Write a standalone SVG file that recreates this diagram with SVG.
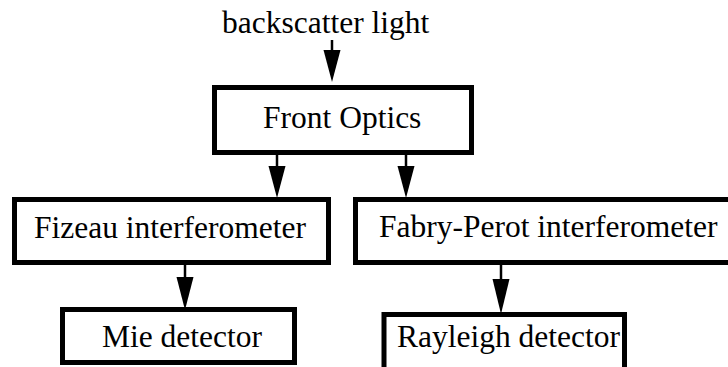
<svg xmlns="http://www.w3.org/2000/svg" width="728" height="367" viewBox="0 0 728 367">
<style>
.box{fill:#fff;stroke:#000;stroke-width:5}
.lbl{font-family:"Liberation Serif","Times New Roman",serif;font-size:31.5px;fill:#000}
.wire{stroke:#000;stroke-width:2.5;fill:none}
.head{fill:#000}
</style>
<rect width="728" height="367" fill="#fff"/>
<g id="label-backscatter"><text class="lbl" x="222" y="33">backscatter light</text></g>
<g id="front-optics"><rect class="box" x="214.5" y="87.5" width="257" height="65"/><text class="lbl" x="263" y="128">Front Optics</text></g>
<g id="fizeau"><rect class="box" x="14.5" y="199.5" width="314" height="63"/><text class="lbl" x="34" y="238">Fizeau interferometer</text></g>
<g id="fabry-perot"><rect class="box" x="355.5" y="199.5" width="400" height="63"/><text class="lbl" x="379" y="237">Fabry-Perot interferometer</text></g>
<g id="mie"><rect class="box" x="62.5" y="309.5" width="232" height="53"/><text class="lbl" x="102" y="347">Mie detector</text></g>
<g id="rayleigh"><rect class="box" x="384" y="314.5" width="240.5" height="80"/><text class="lbl" x="397" y="347">Rayleigh detector</text></g>
<g id="connectors">
<line class="wire" x1="332" y1="40" x2="332" y2="55"/>
<polygon class="head" points="323.5,50 340.5,50 332,82"/>
<line class="wire" x1="277" y1="155" x2="277" y2="170"/>
<polygon class="head" points="268.5,166 285.5,166 277,198"/>
<line class="wire" x1="406" y1="155" x2="406" y2="170"/>
<polygon class="head" points="397.5,166 414.5,166 406,198"/>
<line class="wire" x1="185" y1="265" x2="185" y2="280"/>
<polygon class="head" points="176.5,277 193.5,277 185,310"/>
<line class="wire" x1="501" y1="265" x2="501" y2="282"/>
<polygon class="head" points="492.5,279 509.5,279 501,314"/>
</g>
</svg>
